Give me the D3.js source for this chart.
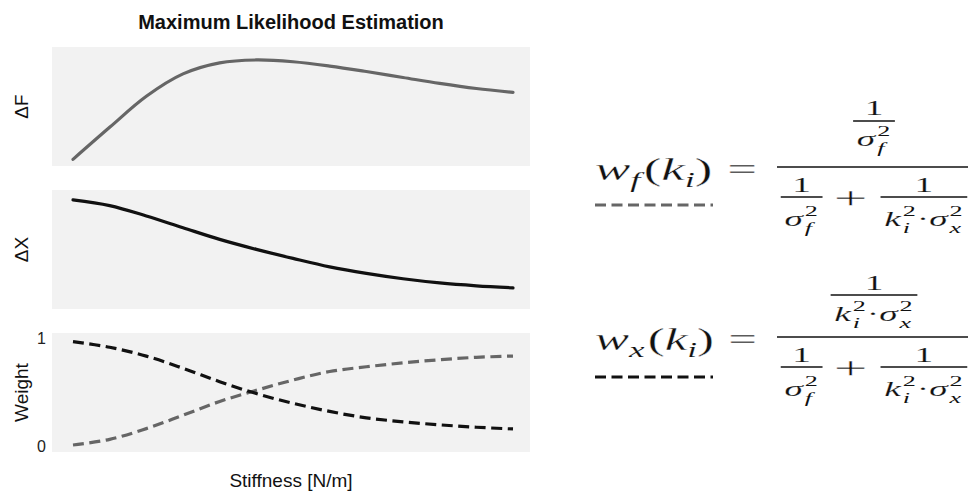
<!DOCTYPE html>
<html>
<head>
<meta charset="utf-8">
<script src="https://cdn.jsdelivr.net/npm/d3@7"></script>
<style>
  html, body { margin: 0; padding: 0; background: #fff; }
  svg { display: block; }
</style>
</head>
<body>
<svg id="fig" width="968" height="497"></svg>
<script>
// ---- data -------------------------------------------------------------
const stiffness = [0, 1, 2, 3, 4, 5, 6, 7, 8, 9, 10, 11, 12];
const deltaF  = [0.056, 0.325, 0.586, 0.774, 0.867, 0.891, 0.876, 0.840, 0.794, 0.744, 0.694, 0.651, 0.619];
const deltaX  = [0.917, 0.869, 0.782, 0.683, 0.585, 0.501, 0.425, 0.354, 0.299, 0.254, 0.219, 0.195, 0.178];
const weightF = [0.015, 0.067, 0.166, 0.290, 0.417, 0.520, 0.615, 0.694, 0.738, 0.774, 0.803, 0.825, 0.837];
const weightX = [0.970, 0.918, 0.836, 0.724, 0.600, 0.490, 0.400, 0.325, 0.266, 0.229, 0.201, 0.179, 0.163];
const weightTicks = [0, 1];

// ---- layout -----------------------------------------------------------
const svg = d3.select("#fig");
const SANS = "'Liberation Sans', Arial, Helvetica, sans-serif";
const MATH = "'Liberation Serif', 'Times New Roman', serif";
const GREY = "#666666", BLACK = "#111111";

const panelLeft = 52, panelRight = 530, panelH = 119;
const panelTops = [47, 190, 333];

const x = d3.scaleLinear().domain(d3.extent(stiffness)).range([73, 513]);

const panels = [
  { top: panelTops[0], domain: [0, 1], label: "ΔF",
    series: [{ values: deltaF, color: GREY, dash: null }] },
  { top: panelTops[1], domain: [0, 1], label: "ΔX",
    series: [{ values: deltaX, color: BLACK, dash: null }] },
  { top: panelTops[2], domain: [-0.05, 1.05], label: "Weight", ticks: weightTicks,
    series: [{ values: weightF, color: GREY, dash: "11,5.5" },
             { values: weightX, color: BLACK, dash: "11,5.5" }] }
];

svg.append("text")
  .attr("x", (panelLeft + panelRight) / 2).attr("y", 29)
  .attr("text-anchor", "middle")
  .attr("font-family", SANS).attr("font-weight", "bold").attr("font-size", 20)
  .attr("fill", "#111")
  .text("Maximum Likelihood Estimation");

panels.forEach(p => {
  const y = d3.scaleLinear().domain(p.domain).range([p.top + panelH, p.top]);
  const g = svg.append("g");
  g.append("rect")
    .attr("x", panelLeft).attr("y", p.top)
    .attr("width", panelRight - panelLeft).attr("height", panelH)
    .attr("fill", "#f2f2f2");

  if (p.ticks) {
    const ax = d3.axisLeft(y).tickValues(p.ticks).tickSize(0).tickPadding(6)
      .tickFormat(d3.format("d"));
    const axG = g.append("g").attr("transform", `translate(${panelLeft},0)`).call(ax);
    axG.select(".domain").remove();
    axG.selectAll("text").attr("font-family", SANS).attr("font-size", 16).attr("fill", "#222");
  }

  const line = d3.line()
    .x((d, i) => x(stiffness[i]))
    .y(d => y(d))
    .curve(d3.curveCatmullRom.alpha(0.5));

  p.series.forEach(s => {
    g.append("path")
      .datum(s.values)
      .attr("d", line)
      .attr("fill", "none")
      .attr("stroke", s.color)
      .attr("stroke-width", 3.2)
      .attr("stroke-linecap", s.dash ? "butt" : "round")
      .attr("stroke-dasharray", s.dash);
  });

  g.append("text")
    .attr("transform", `translate(28,${p.top + panelH / 2}) rotate(-90)`)
    .attr("text-anchor", "middle")
    .attr("font-family", SANS).attr("font-size", 19).attr("fill", "#111")
    .text(p.label);
});

svg.append("text")
  .attr("x", (panelLeft + panelRight) / 2).attr("y", 487)
  .attr("text-anchor", "middle")
  .attr("font-family", SANS).attr("font-size", 19).attr("fill", "#111")
  .text("Stiffness [N/m]");

// ---- formulas ---------------------------------------------------------
// stretched glyphs get a thin white edge so their stems stay light
function thinEdge(size) { return size >= 28 ? 0.3 : size >= 18 ? 0.12 : 0; }

// lays out a run of glyphs left to right; an item flagged nx is stacked with the
// next one (superscript over subscript) and the pair advances by the wider of the two
function mrow(parent, items) {
  const g = parent.append("g");
  let cx = 0, stackW = 0;
  items.forEach(it => {
    if (it.sp) { cx += it.sp; return; }
    const t = g.append("text")
      .attr("x", cx + (it.dx || 0)).attr("y", it.dy || 0)
      .attr("font-family", MATH).attr("font-size", it.s)
      .attr("font-style", it.i ? "italic" : "normal")
      .attr("fill", "#111")
      .attr("stroke", thinEdge(it.s) ? "#fff" : "none")
      .attr("stroke-width", thinEdge(it.s))
      .text(it.t);
    const w = t.node().getComputedTextLength() + (it.dx || 0);
    if (it.nx) { stackW = Math.max(stackW, w); return; }
    cx += Math.max(w, stackW) + 0.5 * (stackW > 0);
    stackW = 0;
  });
  return { g, w: cx };
}

// fraction whose origin is the left end of its bar
function frac(parent, num, den, o) {
  const g = parent.append("g");
  const n = mrow(g, num), d = mrow(g, den);
  const w = Math.max(n.w, d.w) + 2 * o.pad;
  n.g.attr("transform", `translate(${(w - n.w) / 2},${-o.up})`);
  d.g.attr("transform", `translate(${(w - d.w) / 2},${o.down})`);
  g.append("line").attr("x1", 0).attr("x2", w).attr("y1", 0).attr("y2", 0)
    .attr("stroke", "#111").attr("stroke-width", 1.5);
  return { g, w };
}

const M = 32, S = 20, SS = 14;
const SUP = -10.5, SUB = 7;
const one = [{ t: "1", s: S }];
const sigF = [{ t: "σ", s: S, i: 1 }, { t: "2", s: SS, dy: SUP, nx: 1, dx: 1 }, { t: "f", s: SS, i: 1, dy: SUB, dx: 1 }];
const kSigX = [{ t: "k", s: S, i: 1 }, { t: "2", s: SS, dy: SUP, nx: 1, dx: 1 }, { t: "i", s: SS, i: 1, dy: SUB, dx: 1 },
               { t: "·", s: S },
               { t: "σ", s: S, i: 1 }, { t: "2", s: SS, dy: SUP, nx: 1, dx: 1 }, { t: "x", s: SS, i: 1, dy: SUB, dx: 1 }];

function formula(cfg) {
  const f = svg.append("g");

  // left-hand side w(k) =, stretched to span 595..757
  const lhsG = f.append("g");
  const lhs = mrow(lhsG, [
    { t: "w", s: M, i: 1 }, { t: cfg.sub, s: 22, i: 1, dy: 7 }, { sp: 2 },
    { t: "(", s: M }, { t: "k", s: M, i: 1 }, { t: "i", s: 22, i: 1, dy: 7 }, { t: ")", s: M },
    { sp: 9 }, { t: "=", s: M }
  ]);
  lhs.g.attr("transform", `translate(0,${cfg.base})`);
  const sxL = (757 - 595) / lhs.w;
  lhsG.attr("transform", `translate(595,0) scale(${sxL},1)`);

  f.append("line")
    .attr("x1", 595).attr("x2", 713).attr("y1", cfg.dashY).attr("y2", cfg.dashY)
    .attr("stroke", cfg.color).attr("stroke-width", 3.2).attr("stroke-dasharray", "11,5.5");

  // right-hand side fraction, stretched so its bar spans 777..971
  const rhs = f.append("g");
  const denAxis = cfg.bar + 30;
  const a = frac(rhs, one, sigF, { up: 5, down: 29, pad: 2 });
  a.g.attr("transform", `translate(2,${denAxis})`);
  const plusX = 2 + a.w + 6;
  const plus = rhs.append("text")
    .attr("x", plusX).attr("y", denAxis + 12)
    .attr("font-family", MATH).attr("font-size", M).attr("fill", "#111")
    .attr("stroke", "#fff").attr("stroke-width", thinEdge(M)).text("+");
  const pw = plus.node().getComputedTextLength();
  const b = frac(rhs, one, kSigX, { up: 5, down: 29, pad: 2 });
  const bx = plusX + pw + 7;
  b.g.attr("transform", `translate(${bx},${denAxis})`);
  const barW = bx + b.w + 2;

  rhs.append("line").attr("x1", 0).attr("x2", barW).attr("y1", cfg.bar).attr("y2", cfg.bar)
    .attr("stroke", "#111").attr("stroke-width", 1.7);

  const n = frac(rhs, one, cfg.numDen, { up: cfg.numUp, down: cfg.numDown, pad: cfg.numPad });
  n.g.attr("transform", `translate(${barW / 2 - n.w / 2},${cfg.bar - cfg.numGap})`);

  const sxR = (971 - 777) / barW;
  rhs.attr("transform", `translate(777,0) scale(${sxR},1)`);
}

formula({ sub: "f", color: GREY, base: 180, dashY: 205, bar: 167,
          numDen: sigF, numUp: 6, numDown: 25, numGap: 46, numPad: 2 });
formula({ sub: "x", color: BLACK, base: 350, dashY: 377, bar: 337,
          numDen: kSigX, numUp: 5, numDown: 26, numGap: 42, numPad: 2 });
</script>
</body>
</html>
